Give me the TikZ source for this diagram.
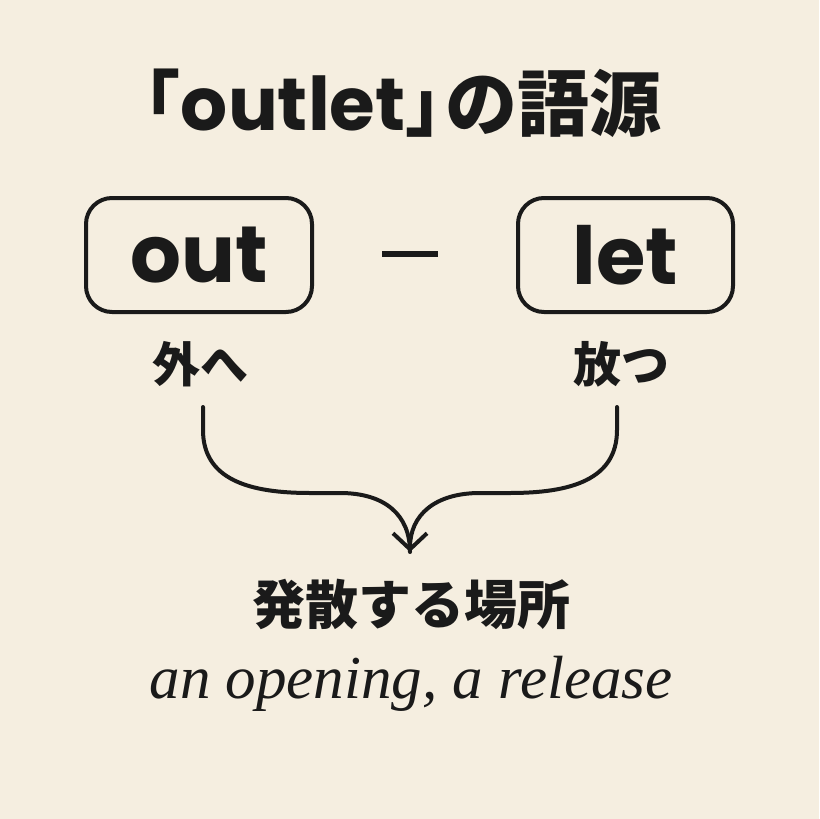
\documentclass[tikz,border=0pt]{standalone}
\usepackage{fontspec}
\usetikzlibrary{arrows.meta}
\newfontfamily\jpfont{Noto Sans CJK JP}
\newfontfamily\latfont{Poppins}
\newfontfamily\itfont{Liberation Serif}
\definecolor{paper}{RGB}{245,238,224}
\definecolor{ink}{RGB}{26,26,26}
\begin{document}
\begin{tikzpicture}[x=0.5pt,y=-0.5pt,line join=round,line cap=round,>={Straight Barb[length=8pt,width=17pt]},line width=2pt]
	\tikzset{every node/.style={inner sep=0pt,text=ink},
		word/.style={draw=ink,rounded corners=13pt,minimum height=57pt,font=\latfont\bfseries\fontsize{40}{40}\selectfont},
		gloss/.style={anchor=base,font=\jpfont\bfseries\fontsize{24}{24}\selectfont},
		link/.style={draw=ink,line width=2pt}}
	\fill[paper] (0,0) rectangle (819,819);
	\node[anchor=base,font=\jpfont\bfseries\fontsize{36}{36}\selectfont] (title) at (385,130) {「{\latfont\fontsize{37}{37}\selectfont outlet}」\kern-0.45em の語源};
	\node[word,minimum width=113pt] (out) at (199,255) {out};
	\node[word,minimum width=107.5pt] (let) at (625.5,255) {let};
	\node (bar) at (410,254) {\rule{28pt}{3pt}};
	\node[gloss] (soto) at (200,382) {外へ};
	\node[gloss] (hanatsu) at (621,382) {放つ};
	% merge into one arrow
	\coordinate (ltop) at (203,407);
	\coordinate (rtop) at (617,407);
	\coordinate (tip) at (410,552);
	\draw[link] (ltop) -- ++(0,23) .. controls +(0,50) and +(-60,0) .. (310,493) -- (340,493) .. controls +(45,0) and +(0,-37) .. (tip);
	\draw[link,->] (rtop) -- ++(0,23) .. controls +(0,50) and +(60,0) .. (510,493) -- (480,493) .. controls +(-45,0) and +(0,-37) .. (tip);
	\node[anchor=base,font=\jpfont\bfseries\fontsize{26.5}{26.5}\selectfont] (goal) at (411,624) {発散する場所};
	\node[anchor=base,font=\itfont\itshape\fontsize{30.5}{30.5}\selectfont] (meaning) at (411,698) {an opening, a release};
\end{tikzpicture}
\end{document}
